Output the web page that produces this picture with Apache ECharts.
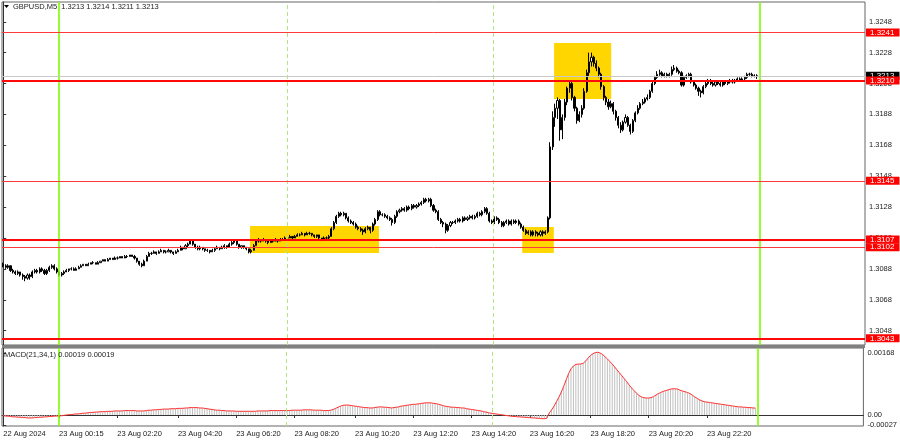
<!DOCTYPE html>
<html><head><meta charset="utf-8">
<script src="https://cdn.jsdelivr.net/npm/echarts@6/dist/echarts.min.js"></script>
<style>html,body{margin:0;padding:0;background:#fff}#c{width:900px;height:441px}</style>
</head><body><div id="c"></div>
<script>
// ---------- DATA ----------
const symbolTitle = 'GBPUSD,M5';
const macdTitle = 'MACD(21,34,1)';
const BASE = 1.3;      // candles stored in pips above 1.3000
const PIP = 0.0001;
// [open, close, low, high] in pips above 1.3000, one per M5 bar
const candlesPips = [
[91,90,89,92],[90,89,88,91],[89,90,88,91],[90,87,86,90],[87,86,85,88],[86,85,84,87],[85,86,84,87],[86,84,83,86],[84,83,81,85],[83,82,80,84],
[82,84,81,85],[84,83,81,85],[83,86,82,87],[86,87,85,88],[87,86,85,88],[86,88,85,89],[88,87,86,89],[87,85,84,88],[85,87,84,88],[87,89,86,90],
[89,90,88,91],[90,88,87,91],[88,86,85,89],[86,84,83,87],[84,85,83,86],[85,86,84,87],[86,87,86,88],[87,88,86,88],[88,88,87,89],[88,87,87,89],
[87,88,87,89],[88,89,88,90],[89,90,89,91],[90,91,90,91],[91,90,90,91],[90,91,90,92],[91,92,91,92],[92,92,91,93],[92,91,91,92],[91,92,91,93],
[92,93,92,93],[93,94,93,94],[94,93,93,94],[93,94,93,95],[94,95,94,95],[95,94,94,95],[94,95,94,96],[95,95,94,96],[95,96,95,96],[96,95,95,96],
[95,96,95,97],[96,96,95,97],[96,97,96,97],[97,96,96,97],[96,95,94,97],[95,93,92,95],[93,91,90,93],[91,90,89,92],[90,93,90,94],[93,96,93,97],
[96,98,96,99],[98,98,97,99],[98,99,98,100],[99,98,97,99],[98,99,98,100],[99,100,99,101],[100,99,98,100],[99,99,98,100],[99,100,99,101],[100,99,98,100],
[99,98,97,99],[98,99,98,100],[99,100,99,101],[100,102,100,103],[102,101,100,102],[101,103,101,104],[103,104,102,105],[104,106,104,107],[106,104,103,106],[104,102,101,104],
[102,101,100,103],[101,102,100,103],[102,101,100,102],[101,100,99,101],[100,100,99,101],[100,99,98,100],[99,100,99,101],[100,101,99,102],[101,102,101,103],[102,101,100,102],
[101,102,101,103],[102,103,101,104],[103,102,101,103],[102,104,102,105],[104,105,103,106],[105,106,104,107],[106,104,103,106],[104,102,101,104],[102,103,101,103],[103,102,101,103],
[102,101,100,102],[101,99,98,101],[99,100,98,101],[100,103,100,104],[103,106,103,107],[106,107,105,108],[107,106,105,107],[106,107,106,108],[107,106,105,107],[106,105,104,106],
[105,106,105,107],[106,106,105,107],[106,107,106,108],[107,106,105,107],[106,107,106,108],[107,107,106,108],[107,108,107,109],[108,108,107,109],[108,109,108,110],[109,108,107,109],
[108,109,108,110],[109,110,109,111],[110,110,109,111],[110,111,110,112],[111,110,109,111],[110,111,110,112],[111,111,110,112],[111,110,109,111],[110,109,108,110],[109,110,108,110],
[110,108,107,110],[108,107,106,108],[107,108,106,109],[108,108,107,109],[108,109,107,110],[109,114,109,115],[114,118,113,119],[118,122,117,123],[122,124,121,125],[124,123,122,125],
[123,124,122,125],[124,121,120,124],[121,119,118,122],[119,118,117,120],[118,117,116,119],[117,115,114,118],[115,114,113,116],[114,113,112,115],[113,112,110,114],[112,114,111,115],
[114,115,113,116],[115,113,111,115],[113,117,112,118],[117,120,116,121],[120,125,119,126],[125,123,122,126],[123,123,122,124],[123,122,121,124],[122,121,120,123],[121,120,119,122],
[120,118,116,121],[118,122,117,123],[122,125,121,126],[125,126,124,127],[126,127,125,128],[127,126,125,128],[126,128,125,129],[128,127,126,129],[127,129,126,130],[129,128,127,130],
[128,129,127,130],[129,130,128,131],[130,131,129,132],[131,133,130,134],[133,132,131,134],[132,133,131,134],[133,129,128,134],[129,126,125,130],[126,125,124,127],[125,120,119,126],
[120,118,117,121],[118,117,115,119],[117,113,111,118],[113,116,112,117],[116,118,115,119],[118,118,117,119],[118,119,117,120],[119,120,118,121],[120,119,118,121],[119,121,118,122],
[121,120,119,122],[120,121,119,122],[121,122,120,123],[122,121,120,123],[121,122,120,123],[122,124,121,125],[124,123,122,125],[123,125,122,126],[125,127,124,128],[127,124,123,128],
[124,119,118,125],[119,118,117,120],[118,121,117,122],[121,120,119,122],[120,118,117,121],[118,116,115,119],[116,118,115,119],[118,119,117,120],[119,117,116,120],[117,119,116,120],
[119,118,117,120],[118,119,117,120],[119,117,116,120],[117,115,114,118],[115,113,112,116],[113,111,110,114],[111,112,110,113],[112,110,109,113],[110,112,109,113],[112,111,109,113],
[111,110,109,112],[110,112,109,113],[112,111,109,113],[111,112,110,113],[112,121,111,122],[121,167,120,170],[167,186,165,190],[186,192,180,195],[192,197,185,199],[197,178,171,198],
[178,186,172,188],[186,196,184,198],[196,205,194,206],[205,208,202,210],[208,199,197,209],[199,192,190,200],[192,184,182,193],[184,188,183,190],[188,192,186,194],[192,203,191,205],
[203,215,202,217],[215,222,213,228],[222,225,219,228],[225,221,219,226],[221,218,216,223],[218,214,212,219],[214,206,204,215],[206,199,197,207],[199,196,194,200],[196,193,191,198],
[193,195,192,197],[195,190,188,196],[190,186,184,191],[186,181,179,187],[181,178,176,183],[178,183,177,184],[183,186,182,188],[186,181,180,187],[181,177,175,182],[177,184,176,185],
[184,189,183,190],[189,192,188,194],[192,195,191,196],[195,196,194,198],[196,198,195,199],[198,199,197,201],[199,203,198,204],[203,208,202,209],[208,212,207,213],[212,214,211,216],
[214,215,213,217],[215,213,212,216],[213,214,212,215],[214,213,212,215],[213,214,212,215],[214,217,213,219],[217,218,216,220],[218,216,215,219],[216,215,214,217],[215,207,206,216],
[207,212,206,213],[212,213,211,214],[213,214,212,215],[214,209,208,215],[209,207,206,210],[207,205,204,208],[205,203,200,206],[203,202,199,204],[202,206,201,207],[206,208,205,209],
[208,210,207,211],[210,208,207,211],[208,207,206,209],[207,209,206,210],[209,208,207,210],[208,207,206,209],[207,209,206,210],[209,208,207,210],[208,209,207,210],[209,210,208,211],
[210,209,208,211],[209,210,208,211],[210,211,209,212],[211,210,209,212],[210,211,209,212],[211,212,210,213],[212,214,211,215],[214,214,213,215],[214,213,212,215],[213,213,212,214],
[213,213,211,214]
];
// MACD(21,34,1) main value per bar, in units of 0.00001
const macdE5 = [
-2,-3,-3,-4,-5,-5,-6,-6,-7,-7, -8,-8,-8,-7,-7,-6,-6,-5,-5,-4, -4,-3,-3,-3,-2,-1,0,1,1,2, 3,3,4,5,5,6,7,7,8,8,
9,9,9,10,10,10,11,11,11,11, 12,12,12,12,12,11,11,11,11,12, 13,13,14,14,15,15,16,16,16,17, 17,17,18,18,18,19,19,20,20,20,
20,19,19,18,17,16,15,14,13,13, 12,12,11,11,11,11,10,10,10,10, 10,10,10,10,10,11,11,11,11,11, 12,12,12,12,12,12,12,12,12,13,
13,13,13,13,14,14,14,14,13,13, 13,13,12,12,12,13,15,18,21,24, 26,27,27,26,25,24,23,22,21,20, 20,19,19,20,21,22,22,21,21,20,
19,20,21,22,24,25,26,27,28,29, 29,30,31,32,33,33,33,32,31,30, 28,26,24,23,22,21,21,20,20,19, 19,17,16,15,14,13,12,11,9,8,
6,5,4,3,2,1,0,-1,-2,-3, -4,-4,-5,-5,-6,-6,-7,-7,-8,-8, -9,-9,-10,-10,-9,
5,14,24,36,48,62,78,95,112,125, 133,137,138,138,140,146,154,161,166,169, 170,168,164,158,152,145,138,130,122,114,
106,98,90,81,73,66,59,53,49,47, 46,46,47,50,54,58,61,64,66,68, 70,71,71,70,67,65,63,61,58,54,
49,45,41,38,36,35,34,33,32,31, 30,29,28,27,26,25,24,23,22,22, 21,21,20,20,19,19
];
const levels = [1.3241, 1.3210, 1.3145, 1.3107, 1.3102, 1.3043];
const levelStrong = [false, true, false, true, false, true];
const bidPrice = 1.3213;
const priceTicks = [1.3048, 1.3068, 1.3088, 1.3108, 1.3128, 1.3148, 1.3168, 1.3188, 1.3208, 1.3228, 1.3248];
const macdTicks = [0.00168, 0, -0.00027];
const tickIdx = [0, 23, 47, 72, 96, 120, 145, 169, 193, 217, 242, 266, 290];
const tickText = ['22 Aug 2024','23 Aug 00:15','23 Aug 02:20','23 Aug 04:20','23 Aug 06:20','23 Aug 08:20','23 Aug 10:20','23 Aug 12:20','23 Aug 14:20','23 Aug 16:20','23 Aug 18:20','23 Aug 20:20','23 Aug 22:20'];
const dayLines = [23, 311];          // bar index of day separators
const sessionLines = [116.7, 201.5]; // bar index of dashed separators
// zones: [fromBar, toBar, lowPrice, highPrice]
const zones = [[101.5, 154.6, 1.30983, 1.31158], [213.5, 226.5, 1.30983, 1.31151], [226.6, 250.1, 1.31980, 1.32342]];
const N_SLOTS = 355;  // bar slots visible on the time axis (incl. right shift)
const priceMin = 1.30387, priceMax = 1.32608;
const macdMin = -0.000298, macdMax = 0.001815;

// ---------- BUILD ----------
const FONT = '"Liberation Sans", Arial, sans-serif';
const FS = 7.5;
const cats = Array.from({length: N_SLOTS}, (_, i) => String(i));
const tickMap = {}; tickIdx.forEach((k, j) => { tickMap[k] = tickText[j]; });
const toPrice = p => +(BASE + p * PIP).toFixed(5);
const ohlc = candlesPips.map(r => r.map(toPrice));
const macd = macdE5.map(v => +(v * 1e-5).toFixed(5));
const last = candlesPips[candlesPips.length - 1];
const headText = symbolTitle + '  ' + [last[0], last[3], last[2], last[1]].map(v => toPrice(v).toFixed(4)).join(' ');
const macdText = macdTitle + ' ' + macd[macd.length - 1].toFixed(5) + ' ' + macd[macd.length - 1].toFixed(5);

const G0 = {left: 2, right: 35, top: 2, height: 343};
const G1 = {left: 2, right: 35, top: 348, height: 78};
const txt = {fontSize: FS, fontFamily: FONT, color: '#222'};

const vLines = [
  ...dayLines.map(x => ({xAxis: x, lineStyle: {color: '#7cfc00', width: 1.6, type: 'solid'}})),
  ...sessionLines.map(x => ({xAxis: x, lineStyle: {color: '#b2e57e', width: 1, type: [4, 3]}}))
];
const boxLabel = (val, bg) => ({show: true, position: 'end', distance: 1, formatter: val.toFixed(4),
  backgroundColor: bg, color: '#fff', padding: [0, 5, 0, 4], fontSize: 8, fontFamily: FONT, lineHeight: 8});

const option = {
  animation: false,
  backgroundColor: '#fff',
  grid: [
    Object.assign({show: true, borderColor: '#666', borderWidth: 1}, G0),
    Object.assign({show: true, borderColor: '#666', borderWidth: 1}, G1)
  ],
  xAxis: [
    {type: 'category', gridIndex: 0, data: cats, boundaryGap: true, axisLine: {show: false}, axisTick: {show: false}, axisLabel: {show: false}, splitLine: {show: false}},
    {type: 'value', gridIndex: 0, min: -0.5, max: N_SLOTS - 0.5, show: false},
    {type: 'category', gridIndex: 1, data: cats, boundaryGap: true, position: 'bottom',
      axisLine: {show: true, lineStyle: {color: '#333', width: 1}},
      axisTick: {show: true, alignWithLabel: true, length: 3, interval: (i) => (i in tickMap), lineStyle: {color: '#333'}},
      axisLabel: Object.assign({show: true, interval: (i) => (i in tickMap), formatter: (v, i) => tickMap[i] || '', align: 'left', margin: 4}, txt),
      splitLine: {show: false}},
    {type: 'value', gridIndex: 1, min: -0.5, max: N_SLOTS - 0.5, show: false}
  ],
  yAxis: [
    {type: 'value', gridIndex: 0, position: 'right', min: priceMin, max: priceMax,
      axisLine: {show: true, lineStyle: {color: '#333'}},
      axisTick: {show: true, length: 3, customValues: priceTicks, lineStyle: {color: '#333'}},
      axisLabel: Object.assign({customValues: priceTicks, formatter: v => v.toFixed(4), margin: 4}, txt),
      splitLine: {show: false}},
    {type: 'value', gridIndex: 1, position: 'right', min: macdMin, max: macdMax,
      axisLine: {show: true, lineStyle: {color: '#333'}},
      axisTick: {show: true, length: 3, customValues: macdTicks, lineStyle: {color: '#333'}},
      axisLabel: Object.assign({customValues: macdTicks, formatter: v => (v === 0 ? '0.00' : v.toFixed(5)), margin: 4}, txt),
      splitLine: {show: false}}
  ],
  series: [
    {type: 'line', name: 'zones', xAxisIndex: 1, yAxisIndex: 0, data: [], z: 1, silent: true,
      markArea: {silent: true, itemStyle: {color: '#ffd600', opacity: 1},
        data: zones.map(z => [{xAxis: z[0], yAxis: z[3]}, {xAxis: z[1], yAxis: z[2]}])}},
    {type: 'line', name: 'vmain', xAxisIndex: 1, yAxisIndex: 0, data: [], z: 2, silent: true,
      markLine: {symbol: 'none', silent: true, animation: false, precision: 6, label: {show: false}, data: vLines}},
    {type: 'candlestick', name: 'GBPUSD', xAxisIndex: 0, yAxisIndex: 0, data: ohlc, barWidth: 1.6, z: 3,
      itemStyle: {color: '#fff', color0: '#000', borderColor: '#000', borderColor0: '#000', borderWidth: 1}},
    {type: 'line', name: 'levels', xAxisIndex: 1, yAxisIndex: 0, data: [], z: 5, silent: true,
      markLine: {symbol: 'none', silent: true, animation: false, precision: 6,
        data: [{yAxis: bidPrice, lineStyle: {color: '#c8c8c8', width: 1, type: 'solid'}, label: boxLabel(bidPrice, '#000')}]
          .concat(levels.map((v, k) => ({yAxis: v,
            lineStyle: {color: levelStrong[k] ? '#ff0a0a' : '#ff3a3a', width: levelStrong[k] ? 1.8 : 1, type: 'solid'},
            label: boxLabel(v, '#ff0000')})))}},
    {type: 'bar', name: 'MACD', xAxisIndex: 2, yAxisIndex: 1, data: macd, barWidth: 1, z: 2, itemStyle: {color: '#c0c0c0'}},
    {type: 'line', name: 'Signal', xAxisIndex: 2, yAxisIndex: 1, data: macd, showSymbol: false, z: 3, lineStyle: {color: '#ff3030', width: 1}},
    {type: 'line', name: 'vmacd', xAxisIndex: 3, yAxisIndex: 1, data: [], z: 4, silent: true,
      markLine: {symbol: 'none', silent: true, animation: false, precision: 6, label: {show: false}, data: vLines}}
  ],
  graphic: [
    {type: 'rect', shape: {x: 2, y: 345, width: 863, height: 3}, style: {fill: '#808080'}, z: 10},
    {type: 'polygon', shape: {points: [[4, 5], [9, 5], [6.5, 8]]}, style: {fill: '#000'}, z: 10},
    {type: 'text', left: 13, top: 3, style: {text: headText, font: FS + 'px ' + FONT, fill: '#222'}, z: 10},
    {type: 'text', left: 4, top: 351, style: {text: macdText, font: FS + 'px ' + FONT, fill: '#222'}, z: 10}
  ]
};
const chart = echarts.init(document.getElementById('c'), null, {renderer: 'canvas'});
chart.setOption(option);
</script></body></html>
